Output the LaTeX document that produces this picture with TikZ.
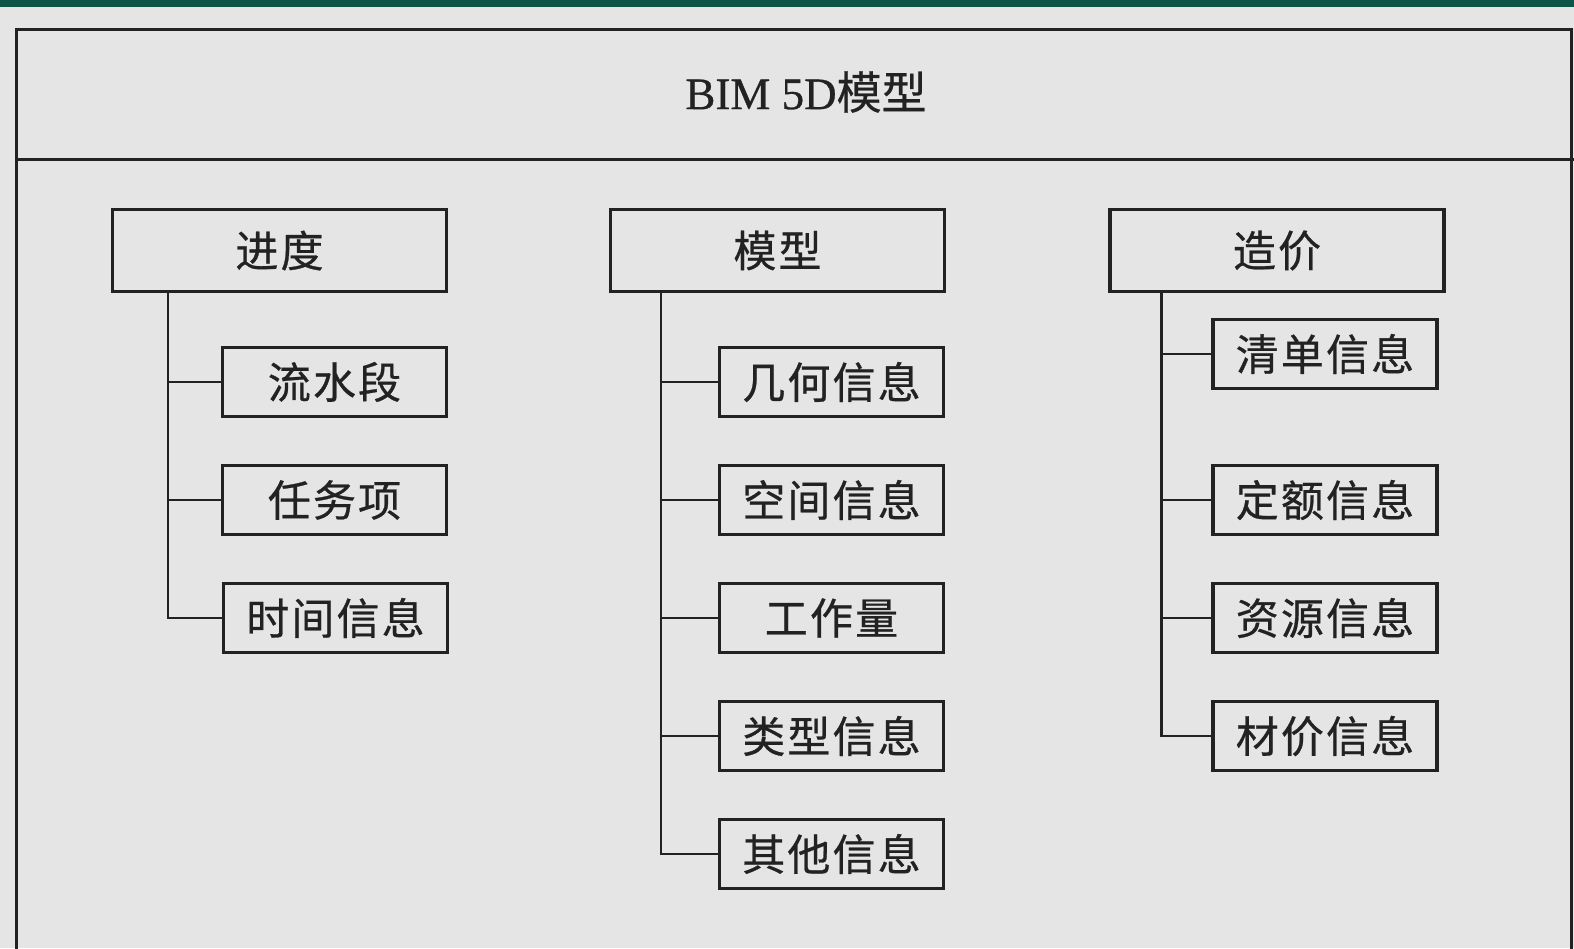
\documentclass[tikz,border=0pt]{standalone}
\usepackage{fontspec}
\setmainfont{Liberation Serif}
\newfontfamily\cjk[LetterSpace=5,FakeBold=0.6]{Noto Sans CJK SC}
\newfontfamily\cjktitle[FakeBold=0.6]{Noto Sans CJK SC}
\newfontfamily\titlelatin[FakeBold=0.6]{Liberation Serif}
\definecolor{bg}{HTML}{E5E5E5}
\definecolor{bar}{HTML}{0C5548}
\definecolor{ink}{HTML}{222222}
\tikzset{
  box/.style={draw=ink, line width=3.2pt, text=ink, inner sep=0pt, font=\cjk\fontsize{43}{46}\selectfont},
  headbox/.style={box, minimum width=334pt, minimum height=82pt},
  leafbox/.style={box, minimum width=224pt, minimum height=69pt},
  conn/.style={draw=ink, line width=2.8pt}
}
\begin{document}
\begin{tikzpicture}[x=1pt,y=-1pt]
\useasboundingbox (0,0) rectangle (1574,948);
\fill[bg] (0,0) rectangle (1574,948);
\fill[bar] (0,0) rectangle (1574,7);
\draw[ink, line width=3pt] (16,29) rectangle (1571,960);
\draw[ink, line width=3pt] (16,159) -- (1574,159);
\node[text=ink, font=\titlelatin\fontsize{45}{48}\selectfont] (title) at (806,92) {BIM 5D{\cjktitle 模型}};

% heads
\node[headbox] (p1) at (279.5,250.5) {进度};
\node[headbox] (p2) at (777.5,250.5) {模型};
\node[headbox] (p3) at (1277,250.5) {造价};

% left children
\node[leafbox] (a1) at (334.5,382) {流水段};
\node[leafbox] (a2) at (334.5,500) {任务项};
\node[leafbox] (a3) at (335.5,618) {时间信息};

% middle children
\node[leafbox] (b1) at (831.5,382) {几何信息};
\node[leafbox] (b2) at (831.5,500) {空间信息};
\node[leafbox] (b3) at (831.5,618) {工作量};
\node[leafbox] (b4) at (831.5,736) {类型信息};
\node[leafbox] (b5) at (831.5,854) {其他信息};

% right children
\node[leafbox] (c1) at (1325,354) {清单信息};
\node[leafbox] (c2) at (1325,500) {定额信息};
\node[leafbox] (c3) at (1325,618) {资源信息};
\node[leafbox] (c4) at (1325,736) {材价信息};

\coordinate (t1) at ([xshift=57pt]p1.south west);
\coordinate (t2) at ([xshift=52pt]p2.south west);
\coordinate (t3) at ([xshift=53pt]p3.south west);

\draw[conn] (t1) |- (a1.west);
\draw[conn] (t1) |- (a2.west);
\draw[conn] (t1) |- (a3.west);

\draw[conn] (t2) |- (b1.west);
\draw[conn] (t2) |- (b2.west);
\draw[conn] (t2) |- (b3.west);
\draw[conn] (t2) |- (b4.west);
\draw[conn] (t2) |- (b5.west);

\draw[conn] (t3) |- (c1.west);
\draw[conn] (t3) |- (c2.west);
\draw[conn] (t3) |- (c3.west);
\draw[conn] (t3) |- (c4.west);
\end{tikzpicture}
\end{document}
